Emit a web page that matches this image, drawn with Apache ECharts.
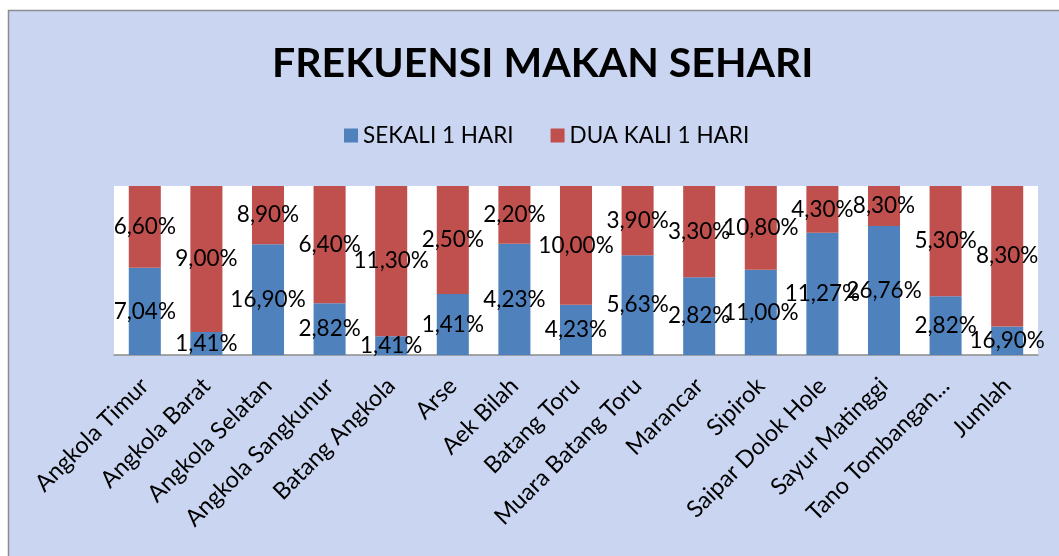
<!DOCTYPE html>
<html>
<head>
<meta charset="utf-8">
<script src="https://cdn.jsdelivr.net/npm/echarts@6/dist/echarts.min.js"></script>
<style>
  html, body { margin: 0; padding: 0; background: #fff; }
  #chart { width: 1059px; height: 556px; }
</style>
</head>
<body>
<div id="chart"></div>
<script>
  // data
  const categories = [
    'Angkola Timur', 'Angkola Barat', 'Angkola Selatan', 'Angkola Sangkunur',
    'Batang Angkola', 'Arse', 'Aek Bilah', 'Batang Toru', 'Muara Batang Toru',
    'Marancar', 'Sipirok', 'Saipar Dolok Hole', 'Sayur Matinggi',
    'Tano Tombangan...', 'Jumlah'
  ]
  const sekali = [7.04, 1.41, 16.90, 2.82, 1.41, 1.41, 4.23, 4.23, 5.63, 2.82, 11.00, 11.27, 26.76, 2.82, 16.90]
  const duaKali = [6.60, 9.00, 8.90, 6.40, 11.30, 2.50, 2.20, 10.00, 3.90, 3.30, 10.80, 4.30, 8.30, 5.30, 83.10]
  // label texts as printed on the chart (Jumlah shows 8,30%)
  const labelSekali = ['7,04%', '1,41%', '16,90%', '2,82%', '1,41%', '1,41%', '4,23%', '4,23%', '5,63%', '2,82%', '11,00%', '11,27%', '26,76%', '2,82%', '16,90%']
  const labelDuaKali = ['6,60%', '9,00%', '8,90%', '6,40%', '11,30%', '2,50%', '2,20%', '10,00%', '3,90%', '3,30%', '10,80%', '4,30%', '8,30%', '5,30%', '8,30%']

  const FONT = 'Lato'

  // 100% stacked shares
  const share = (arr) => arr.map((v, i) => v / (sekali[i] + duaKali[i]) * 100)

  const chart = echarts.init(document.getElementById('chart'))

  function segLabel(texts) {
    return {
      show: true,
      position: 'inside',
      color: '#000',
      fontFamily: FONT,
      fontSize: 22.5,
      formatter: (p) => texts[p.dataIndex]
    }
  }

  chart.setOption({
    animation: false,
    color: ['#4F81BD', '#C0504D'],
    graphic: [{
      type: 'rect',
      z: -10,
      shape: { x: 8.5, y: 10.5, width: 1100, height: 600 },
      style: { fill: '#cad6f1', stroke: '#8c8c8c', lineWidth: 1.5 }
    }],
    title: {
      text: 'FREKUENSI MAKAN SEHARI',
      left: 267,
      top: 38,
      textStyle: {
        fontFamily: FONT,
        fontWeight: 'bold',
        fontSize: 41,
        color: '#000'
      }
    },
    legend: {
      top: 119,
      left: 339,
      icon: 'rect',
      itemWidth: 14,
      itemHeight: 14,
      itemGap: 37,
      textStyle: { fontFamily: FONT, fontSize: 22.5, color: '#000' },
      data: ['SEKALI 1 HARI', 'DUA KALI 1 HARI']
    },
    grid: {
      left: 114,
      right: 21,
      top: 186,
      bottom: 201,
      show: true,
      backgroundColor: '#fff',
      borderWidth: 0
    },
    xAxis: {
      type: 'category',
      data: categories,
      axisLine: { lineStyle: { color: '#8c8c8c', width: 1.5 } },
      axisTick: { show: false },
      axisLabel: {
        interval: 0,
        rotate: 45,
        margin: 27,
        color: '#000',
        fontFamily: FONT,
        fontSize: 23.5
      }
    },
    yAxis: {
      type: 'value',
      min: 0,
      max: 100,
      show: false
    },
    series: [
      {
        name: 'SEKALI 1 HARI',
        type: 'bar',
        stack: 'total',
        barWidth: '52%',
        data: share(sekali),
        label: segLabel(labelSekali)
      },
      {
        name: 'DUA KALI 1 HARI',
        type: 'bar',
        stack: 'total',
        barWidth: '52%',
        data: share(duaKali),
        label: segLabel(labelDuaKali)
      }
    ]
  })
</script>
</body>
</html>
